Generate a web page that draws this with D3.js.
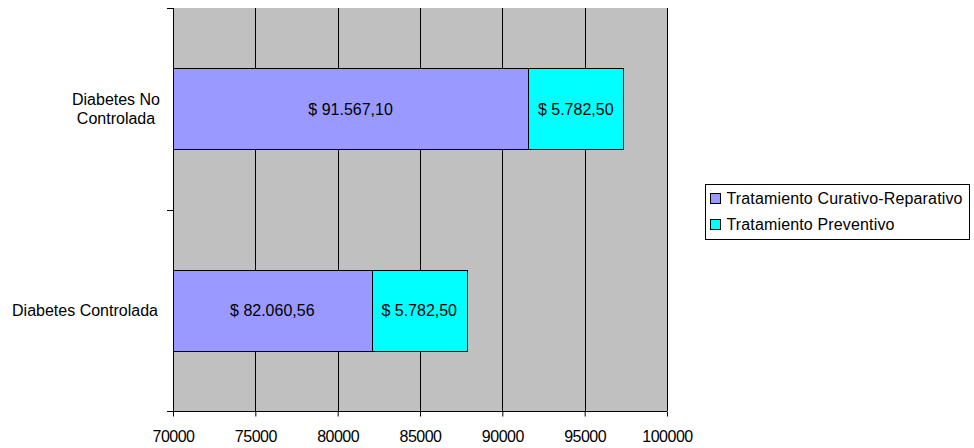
<!DOCTYPE html>
<html>
<head>
<meta charset="utf-8">
<script src="https://cdn.jsdelivr.net/npm/d3@7"></script>
<style>
  body { margin: 0; background: #fff; }
  svg { display: block; font-family: "Liberation Sans", Arial, sans-serif; }
</style>
</head>
<body>
<div id="chart"></div>
<script>
// chart data
const categories = ["Diabetes No Controlada", "Diabetes Controlada"];
const categoryLines = [["Diabetes No", "Controlada"], ["Diabetes Controlada"]];
const curativo = [91567.10, 82060.56];
const preventivo = [5782.50, 5782.50];
const curativoLabels = ["$ 91.567,10", "$ 82.060,56"];
const preventivoLabels = ["$ 5.782,50", "$ 5.782,50"];
const seriesNames = ["Tratamiento Curativo-Reparativo", "Tratamiento Preventivo"];
const xTicks = [70000, 75000, 80000, 85000, 90000, 95000, 100000];

(function(){
    const width = 974;
    const height = 448;
    const plot = { left: 173, right: 667, top: 8, bottom: 411 };
    const colors = ["#9999FF", "#00FFFF"];

    const svg = d3.select("#chart")
        .append("svg")
        .attr("width", width)
        .attr("height", height);

    const x = d3.scaleLinear()
        .domain([70000, 100000])
        .range([plot.left, plot.right]);

    const y = d3.scaleBand()
        .domain(categories)
        .range([plot.top, plot.bottom])
        .paddingInner(0.6)
        .paddingOuter(0.3);

    // gray plot area
    svg.append("rect")
        .attr("x", plot.left)
        .attr("y", plot.top)
        .attr("width", plot.right - plot.left)
        .attr("height", plot.bottom - plot.top)
        .style("fill", "#C0C0C0");

    // vertical gridlines
    svg.append("g")
        .selectAll("line")
        .data(xTicks)
        .enter()
        .append("line")
        .attr("x1", d => Math.round(x(d)) + 0.5)
        .attr("x2", d => Math.round(x(d)) + 0.5)
        .attr("y1", plot.top)
        .attr("y2", plot.bottom)
        .style("stroke", "#000")
        .style("stroke-width", 1);

    // stacked bars
    const rows = categories.map((c, i) => ({
        cat: c,
        segs: [
            { x0: 70000, x1: curativo[i], label: curativoLabels[i], color: colors[0] },
            { x0: curativo[i], x1: curativo[i] + preventivo[i], label: preventivoLabels[i], color: colors[1] }
        ]
    }));

    rows.forEach(r => {
        r.segs.forEach(s => {
            svg.append("rect")
                .attr("x", Math.round(x(s.x0)) + 0.5)
                .attr("y", Math.round(y(r.cat)) + 0.5)
                .attr("width", Math.round(x(s.x1)) - Math.round(x(s.x0)))
                .attr("height", Math.round(y.bandwidth()))
                .style("fill", s.color)
                .style("stroke", "#000")
                .style("stroke-width", 1);

            svg.append("text")
                .attr("x", (x(s.x0) + x(s.x1)) / 2)
                .attr("y", y(r.cat) + y.bandwidth() / 2 + 6)
                .attr("text-anchor", "middle")
                .style("font-size", "16px")
                .style("fill", "#000")
                .text(s.label);
        });
    });

    // left axis line + ticks
    svg.append("line")
        .attr("x1", plot.left + 0.5).attr("x2", plot.left + 0.5)
        .attr("y1", plot.top).attr("y2", plot.bottom)
        .style("stroke", "#000");
    const yEdges = [plot.top, (plot.top + plot.bottom) / 2, plot.bottom];
    svg.append("g")
        .selectAll("line")
        .data(yEdges)
        .enter()
        .append("line")
        .attr("x1", plot.left - 6).attr("x2", plot.left)
        .attr("y1", d => Math.round(d) + 0.5).attr("y2", d => Math.round(d) + 0.5)
        .style("stroke", "#000");

    // bottom axis
    const xAxis = svg.append("g")
        .attr("transform", `translate(0,${plot.bottom + 0.5})`)
        .call(d3.axisBottom(x).tickValues(xTicks).tickSize(5).tickFormat(d3.format("d")));
    xAxis.select(".domain").attr("d", `M${plot.left},0H${plot.right}`).style("stroke", "#000");
    xAxis.selectAll(".tick line").style("stroke", "#000");
    xAxis.selectAll("text")
        .attr("y", 30.5)
        .attr("dy", null)
        .style("font-size", "16px")
        .style("letter-spacing", "-0.5px")
        .style("font-family", "Liberation Sans, Arial, sans-serif")
        .style("fill", "#000");

    // category labels
    categories.forEach((c, i) => {
        const lines = categoryLines[i];
        const cy = y(c) + y.bandwidth() / 2;
        const lh = 19;
        const t = svg.append("text")
            .attr("text-anchor", "middle")
            .style("font-size", "16px")
            .style("fill", "#000");
        lines.forEach((ln, j) => {
            t.append("tspan")
                .attr("x", lines.length > 1 ? 116 : 85)
                .attr("y", cy + 6 + (j - (lines.length - 1) / 2) * lh)
                .text(ln);
        });
    });

    // legend
    const lg = svg.append("g").attr("transform", "translate(705.5,184.5)");
    lg.append("rect")
        .attr("width", 264)
        .attr("height", 55)
        .style("fill", "#fff")
        .style("stroke", "#000");
    seriesNames.forEach((name, i) => {
        lg.append("rect")
            .attr("x", 5)
            .attr("y", 9 + i * 26)
            .attr("width", 10)
            .attr("height", 10)
            .style("fill", colors[i])
            .style("stroke", "#000");
        lg.append("text")
            .attr("x", 21)
            .attr("y", 19.5 + i * 26)
            .style("font-size", "16px")
            .style("letter-spacing", "0.15px")
            .style("fill", "#000")
            .text(name);
    });
})();
</script>
</body>
</html>
